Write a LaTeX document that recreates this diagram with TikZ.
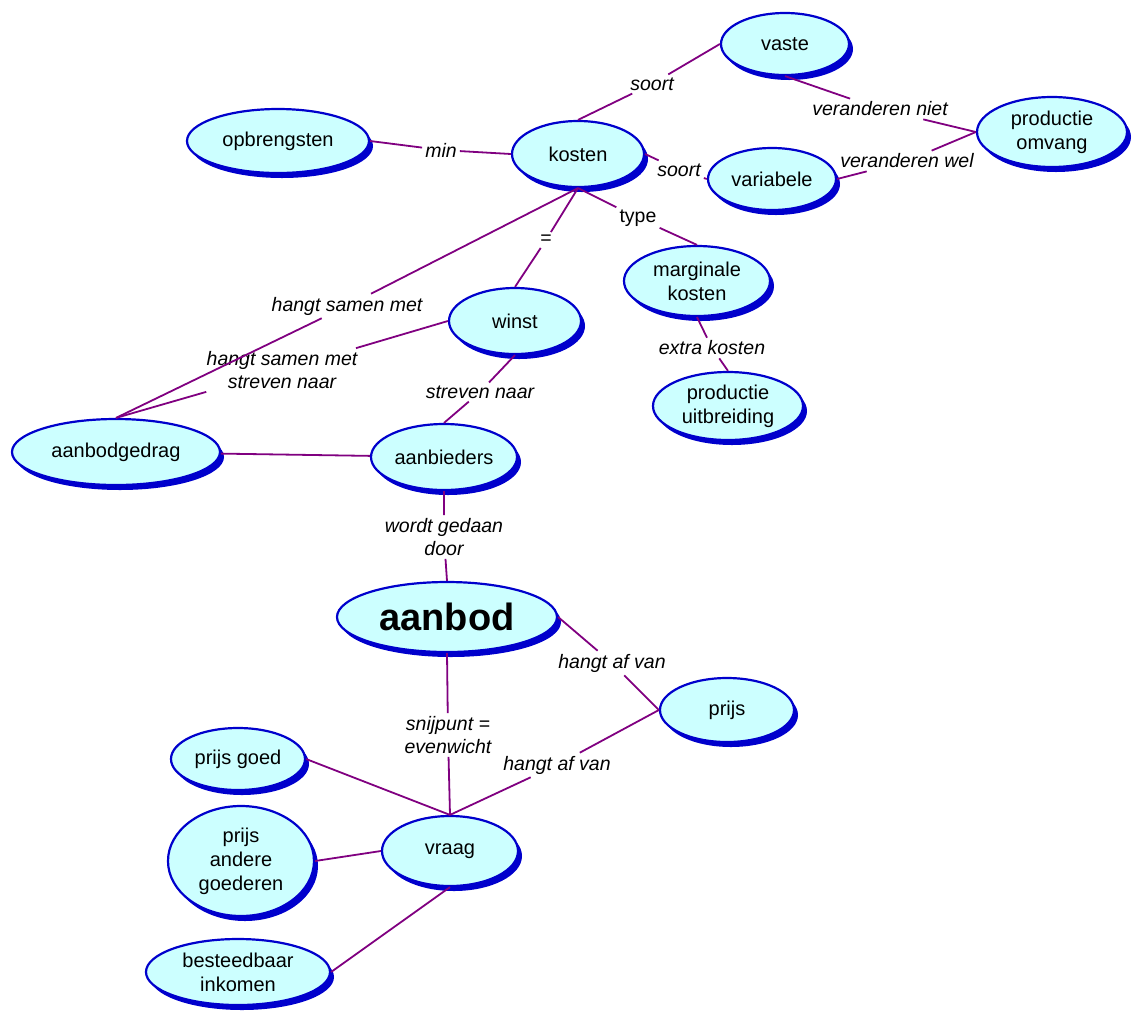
\documentclass[tikz,border=0pt]{standalone}
\usepackage{fontspec}
\setmainfont{Liberation Sans}
\usetikzlibrary{shapes.geometric,shadows}
\definecolor{conceptfill}{HTML}{CCFFFF}
\definecolor{conceptline}{HTML}{0000CC}
\definecolor{linkline}{HTML}{800080}

\begin{document}
\begin{tikzpicture}[x=1pt,y=-1pt,
  concept/.style={ellipse,draw=conceptline,line width=2.2pt,fill=conceptfill,inner sep=0pt,align=center,
    font=\fontsize{20}{24}\selectfont,
    drop shadow={shadow xshift=4pt,shadow yshift=-5pt,fill=conceptline,opacity=1}},
  linkname/.style={inner sep=3pt,align=center,font=\fontsize{19.5}{23}\selectfont\itshape},
  link/.style={draw=linkline,line width=1.8pt}]
\useasboundingbox (0,0) rectangle (1135,1013);

\node (vaste) [concept,minimum width=128,minimum height=62] at (785,44) {vaste};
\node (omvang) [concept,minimum width=150,minimum height=70] at (1052,132) {productie\\omvang};
\node (opbrengsten) [concept,minimum width=182,minimum height=64] at (278,141) {opbrengsten};
\node (kosten) [concept,minimum width=132,minimum height=66] at (578,154) {kosten};
\node (variabele) [concept,minimum width=128,minimum height=62] at (772,179) {variabele};
\node (marginale) [concept,minimum width=146,minimum height=70] at (697,281) {marginale\\kosten};
\node (winst) [concept,minimum width=132,minimum height=66] at (515,321) {winst};
\node (uitbreiding) [concept,minimum width=150,minimum height=68] at (728,406) {productie\\uitbreiding};
\node (gedrag) [concept,minimum width=208,minimum height=66] at (116,452) {aanbodgedrag};
\node (aanbieders) [concept,minimum width=146,minimum height=66] at (444,457) {aanbieders};
\node (aanbod) [concept,minimum width=220,minimum height=70,font=\fontsize{38}{44}\selectfont\bfseries] at (447,617) {aanbod};
\node (prijs) [concept,minimum width=134,minimum height=64] at (727,710) {prijs};
\node (prijsgoed) [concept,minimum width=134,minimum height=62] at (238,759) {prijs goed};
\node (vraag) [concept,minimum width=136,minimum height=70] at (450,851) {vraag};
\node (andere) [concept,minimum width=146,minimum height=110] at (241,861) {prijs\\andere\\goederen};
\node (inkomen) [concept,minimum width=184,minimum height=66] at (238,972) {besteedbaar\\inkomen};

\node (soortvaste) [linkname] at (652,84) {soort};
\node (nietlink) [linkname] at (880,109) {veranderen niet};
\node (wellink) [linkname] at (907,161) {veranderen wel};
\node (minlink) [linkname] at (441,150) {min};
\node (soortvar) [linkname] at (679,170) {soort};
\node (typelink) [linkname,font=\fontsize{19.5}{23}\selectfont] at (638,218) {type};
\node (islink) [linkname,font=\fontsize{19.5}{23}\selectfont] at (546,240) {=};
\node (samenlink) [linkname] at (347,306) {hangt samen met};
\node (samenstreven) [linkname] at (282,370) {hangt samen met\\streven naar};
\node (strevenlink) [linkname] at (480,392) {streven naar};
\node (extralink) [linkname] at (712,348) {extra kosten};
\node (gedaanlink) [linkname] at (444,537) {wordt gedaan\\door};
\node (afvanprijs) [linkname] at (612,663) {hangt af van};
\node (snijpunt) [linkname] at (448,735) {snijpunt =\\evenwicht};
\node (afvanvraag) [linkname] at (557,765) {hangt af van};

\draw [link] (kosten.north) -- (soortvaste) -- (vaste.west);
\draw [link] (vaste.south) -- (nietlink) -- (omvang.west);
\draw [link] (variabele.east) -- (wellink) -- (omvang.west);
\draw [link] (opbrengsten.east) -- (minlink) -- (kosten.west);
\draw [link] (kosten.east) -- (soortvar) -- (variabele.west);
\draw [link] (kosten.south) -- (typelink) -- (marginale.north);
\draw [link] (kosten.south) -- (islink) -- (winst.north);
\draw [link] (kosten.south) -- (samenlink) -- (gedrag.north);
\draw [link] (winst.west) -- (samenstreven) -- (gedrag.north);
\draw [link] (winst.south) -- (strevenlink) -- (aanbieders.north);
\draw [link] (marginale.south) -- (extralink) -- (uitbreiding.north);
\draw [link] (gedrag) -- (aanbieders);
\draw [link] (aanbieders.south) -- (gedaanlink) -- (aanbod.north);
\draw [link] (aanbod.east) -- (afvanprijs) -- (prijs.west);
\draw [link] (aanbod.south) -- (snijpunt) -- (vraag.north);
\draw [link] (prijs.west) -- (afvanvraag) -- (vraag.north);
\draw [link] (prijsgoed.east) -- (vraag.north);
\draw [link] (andere.east) -- (vraag.west);
\draw [link] (inkomen.east) -- (vraag.south);
\end{tikzpicture}
\end{document}
